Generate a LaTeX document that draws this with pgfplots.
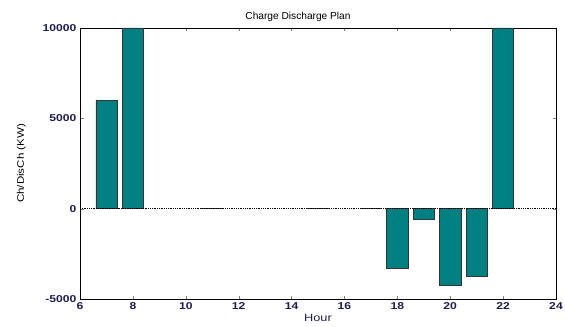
\documentclass[border=0pt]{standalone}
\usepackage{fontspec}
\setmainfont{Liberation Sans}
\newfontfamily\tickfont[FakeStretch=1.22]{Liberation Sans}
\usepackage{pgfplots}
\pgfplotsset{compat=1.18}
\definecolor{barteal}{RGB}{0,128,128}
\definecolor{ticknavy}{RGB}{30,30,80}
\begin{document}
\begin{tikzpicture}
\begin{axis}[
  scale only axis,
  width=476bp, height=271bp,
  xmin=6, xmax=24, ymin=-5000, ymax=10000,
  xtick={6,8,...,24},
  ytick={-5000,0,5000,10000},
  scaled y ticks=false,
  /pgf/number format/assume math mode=true,
  yticklabel style={/pgf/number format/fixed, /pgf/number format/1000 sep={}},
  tick label style={font=\tickfont\bfseries\fontsize{10}{11}\selectfont, text=ticknavy},
  tick align=inside,
  tick pos=both,
  major tick length=3.5bp,
  axis line style={black, line width=0.6pt},
  title={Charge Discharge Plan},
  title style={font=\fontsize{10.2}{11}\selectfont, yshift=-3bp, xshift=-20bp},
  xlabel={Hour},
  ylabel={Ch/DisCh (KW)},
  xlabel style={font=\tickfont\fontsize{10.5}{11}\selectfont, text=ticknavy, yshift=2bp},
  ylabel style={font=\tickfont\fontsize{9.5}{11}\selectfont, yshift=10bp},
  clip=false,
]
\addplot[ybar, bar width=0.8, fill=barteal, draw=black!80, line width=0.6pt] coordinates {
  (7,6000) (8,10000) (11,20) (15,20) (17,10) (18,-3300) (19,-600) (20,-4250) (21,-3750) (22,10000)
};
\addplot[black, densely dotted, line width=0.8pt, mark=none] coordinates {(6,0) (24,0)};
\end{axis}
\pgfresetboundingbox
\path ([shift={(-80bp,-28bp)}]current axis.south west) rectangle ([shift={(9bp,28bp)}]current axis.north east);
\end{tikzpicture}
\end{document}
